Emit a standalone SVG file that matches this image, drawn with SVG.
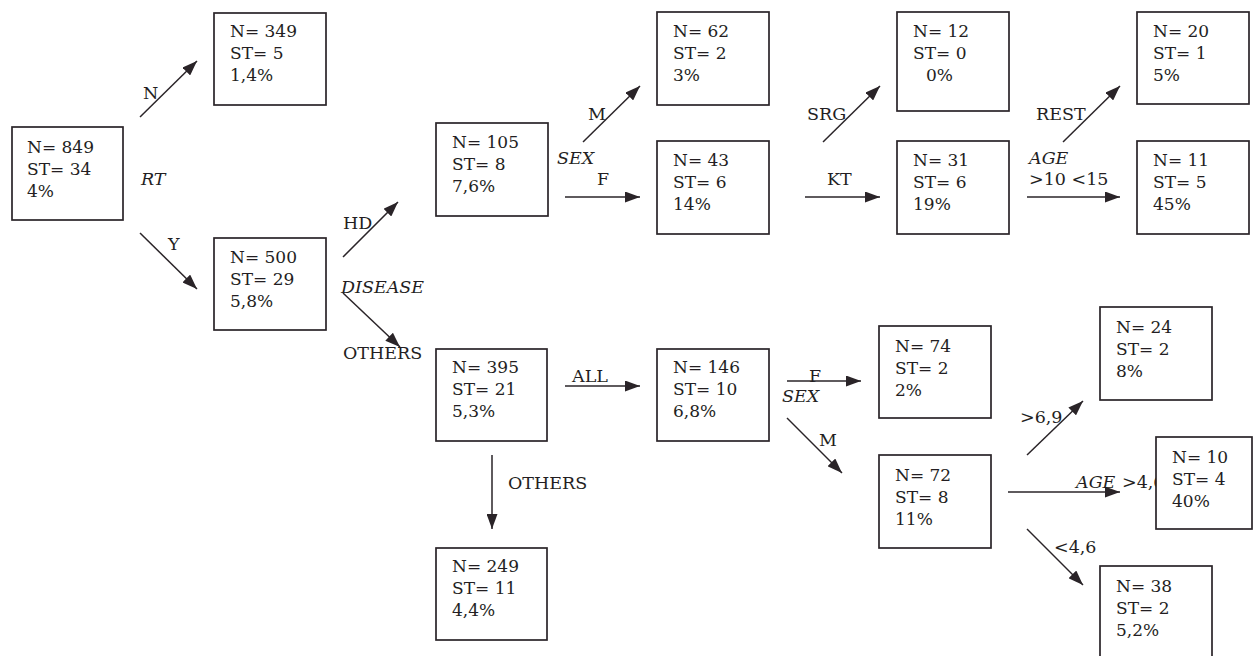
<svg xmlns="http://www.w3.org/2000/svg" width="1254" height="656" viewBox="0 0 1254 656">
  <style>
    .box { fill: #ffffff; stroke: #2a2428; stroke-width: 1.7; }
    .t { font-family: "DejaVu Serif", "Liberation Serif", serif; font-size: 17px; fill: #231e22; }
    .lbl { font-family: "DejaVu Serif", "Liberation Serif", serif; font-size: 17.5px; fill: #231e22; }
    .it { font-style: italic; }
    .edge { stroke: #2a2428; stroke-width: 1.5; fill: none; marker-end: url(#ah); }
  </style>
  <defs>
    <marker id="ah" viewBox="0 0 15 11" refX="15" refY="5.5" markerWidth="15" markerHeight="11" markerUnits="userSpaceOnUse" orient="auto">
      <path d="M0,0 L15,5.5 L0,11 z" fill="#2a2428"/>
    </marker>
  </defs>

  <rect width="1254" height="656" fill="#ffffff"/>

  <!-- connectors and split labels -->
  <g id="connectors">
    <line class="edge" x1="140" y1="117" x2="197" y2="61"/>
    <line class="edge" x1="140" y1="233" x2="197" y2="289"/>
    <line class="edge" x1="343" y1="257" x2="398" y2="202"/>
    <line class="edge" x1="343" y1="293" x2="400" y2="347"/>
    <line class="edge" x1="583" y1="142" x2="640" y2="86"/>
    <line class="edge" x1="565" y1="197" x2="640" y2="197"/>
    <line class="edge" x1="823" y1="142" x2="880" y2="86"/>
    <line class="edge" x1="805" y1="197" x2="880" y2="197"/>
    <line class="edge" x1="1063" y1="142" x2="1120" y2="86"/>
    <line class="edge" x1="1027" y1="197" x2="1120" y2="197"/>
    <line class="edge" x1="565" y1="386" x2="640" y2="386"/>
    <line class="edge" x1="492" y1="455" x2="492" y2="529"/>
    <line class="edge" x1="787" y1="381" x2="861" y2="381"/>
    <line class="edge" x1="787" y1="418" x2="842" y2="473"/>
    <line class="edge" x1="1027" y1="455" x2="1083" y2="401"/>
    <line class="edge" x1="1008" y1="492" x2="1120" y2="492"/>
    <line class="edge" x1="1027" y1="529" x2="1083" y2="585"/>

    <text class="lbl" x="143" y="99">N</text>
    <text class="lbl it" x="141" y="185">RT</text>
    <text class="lbl" x="168" y="250">Y</text>
    <text class="lbl" x="343" y="229">HD</text>
    <text class="lbl it" x="341" y="293">DISEASE</text>
    <text class="lbl" x="343" y="359">OTHERS</text>
    <text class="lbl" x="588" y="120">M</text>
    <text class="lbl it" x="557" y="164">SEX</text>
    <text class="lbl" x="597" y="185">F</text>
    <text class="lbl" x="807" y="120">SRG</text>
    <text class="lbl" x="827" y="185">KT</text>
    <text class="lbl" x="1036" y="120">REST</text>
    <text class="lbl it" x="1029" y="164">AGE</text>
    <text class="lbl" x="1029" y="185">&gt;10 &lt;15</text>
    <text class="lbl" x="572" y="382">ALL</text>
    <text class="lbl" x="508" y="489">OTHERS</text>
    <text class="lbl" x="809" y="382">F</text>
    <text class="lbl it" x="782" y="402">SEX</text>
    <text class="lbl" x="819" y="446">M</text>
    <text class="lbl" x="1020" y="423">&gt;6,9</text>
    <text class="lbl it" x="1076" y="488">AGE</text>
    <text class="lbl" x="1122" y="488">&gt;4,6</text>
    <text class="lbl" x="1054" y="553">&lt;4,6</text>
  </g>

  <!-- nodes -->
  <g id="n849">
    <rect class="box" x="12" y="127" width="111" height="93"/>
    <text class="t" x="27" y="153">N= 849</text>
    <text class="t" x="27" y="175">ST= 34</text>
    <text class="t" x="27" y="197">4%</text>
  </g>
  <g id="n349">
    <rect class="box" x="214" y="13" width="112" height="92"/>
    <text class="t" x="230" y="37">N= 349</text>
    <text class="t" x="230" y="59">ST= 5</text>
    <text class="t" x="230" y="81">1,4%</text>
  </g>
  <g id="n500">
    <rect class="box" x="214" y="238" width="112" height="92"/>
    <text class="t" x="230" y="263">N= 500</text>
    <text class="t" x="230" y="285">ST= 29</text>
    <text class="t" x="230" y="307">5,8%</text>
  </g>
  <g id="n105">
    <rect class="box" x="436" y="123" width="112" height="93"/>
    <text class="t" x="452" y="148">N= 105</text>
    <text class="t" x="452" y="170">ST= 8</text>
    <text class="t" x="452" y="192">7,6%</text>
  </g>
  <g id="n62">
    <rect class="box" x="657" y="12" width="112" height="93"/>
    <text class="t" x="673" y="37">N= 62</text>
    <text class="t" x="673" y="59">ST= 2</text>
    <text class="t" x="673" y="81">3%</text>
  </g>
  <g id="n43">
    <rect class="box" x="657" y="141" width="112" height="93"/>
    <text class="t" x="673" y="166">N= 43</text>
    <text class="t" x="673" y="188">ST= 6</text>
    <text class="t" x="673" y="210">14%</text>
  </g>
  <g id="n12">
    <rect class="box" x="897" y="12" width="112" height="99"/>
    <text class="t" x="913" y="37">N= 12</text>
    <text class="t" x="913" y="59">ST= 0</text>
    <text class="t" x="926" y="81">0%</text>
  </g>
  <g id="n31">
    <rect class="box" x="897" y="141" width="112" height="93"/>
    <text class="t" x="913" y="166">N= 31</text>
    <text class="t" x="913" y="188">ST= 6</text>
    <text class="t" x="913" y="210">19%</text>
  </g>
  <g id="n20">
    <rect class="box" x="1137" y="12" width="112" height="92"/>
    <text class="t" x="1153" y="37">N= 20</text>
    <text class="t" x="1153" y="59">ST= 1</text>
    <text class="t" x="1153" y="81">5%</text>
  </g>
  <g id="n11">
    <rect class="box" x="1137" y="141" width="112" height="93"/>
    <text class="t" x="1153" y="166">N= 11</text>
    <text class="t" x="1153" y="188">ST= 5</text>
    <text class="t" x="1153" y="210">45%</text>
  </g>
  <g id="n395">
    <rect class="box" x="436" y="349" width="111" height="92"/>
    <text class="t" x="452" y="373">N= 395</text>
    <text class="t" x="452" y="395">ST= 21</text>
    <text class="t" x="452" y="417">5,3%</text>
  </g>
  <g id="n146">
    <rect class="box" x="657" y="349" width="112" height="92"/>
    <text class="t" x="673" y="373">N= 146</text>
    <text class="t" x="673" y="395">ST= 10</text>
    <text class="t" x="673" y="417">6,8%</text>
  </g>
  <g id="n249">
    <rect class="box" x="436" y="548" width="111" height="92"/>
    <text class="t" x="452" y="572">N= 249</text>
    <text class="t" x="452" y="594">ST= 11</text>
    <text class="t" x="452" y="616">4,4%</text>
  </g>
  <g id="n74">
    <rect class="box" x="879" y="326" width="112" height="92"/>
    <text class="t" x="895" y="352">N= 74</text>
    <text class="t" x="895" y="374">ST= 2</text>
    <text class="t" x="895" y="396">2%</text>
  </g>
  <g id="n72">
    <rect class="box" x="879" y="455" width="112" height="93"/>
    <text class="t" x="895" y="481">N= 72</text>
    <text class="t" x="895" y="503">ST= 8</text>
    <text class="t" x="895" y="525">11%</text>
  </g>
  <g id="n24">
    <rect class="box" x="1100" y="307" width="112" height="93"/>
    <text class="t" x="1116" y="333">N= 24</text>
    <text class="t" x="1116" y="355">ST= 2</text>
    <text class="t" x="1116" y="377">8%</text>
  </g>
  <g id="n10">
    <rect class="box" x="1156" y="437" width="96" height="92"/>
    <text class="t" x="1172" y="463">N= 10</text>
    <text class="t" x="1172" y="485">ST= 4</text>
    <text class="t" x="1172" y="507">40%</text>
  </g>
  <g id="n38">
    <rect class="box" x="1100" y="566" width="112" height="100"/>
    <text class="t" x="1116" y="592">N= 38</text>
    <text class="t" x="1116" y="614">ST= 2</text>
    <text class="t" x="1116" y="636">5,2%</text>
  </g>
</svg>
